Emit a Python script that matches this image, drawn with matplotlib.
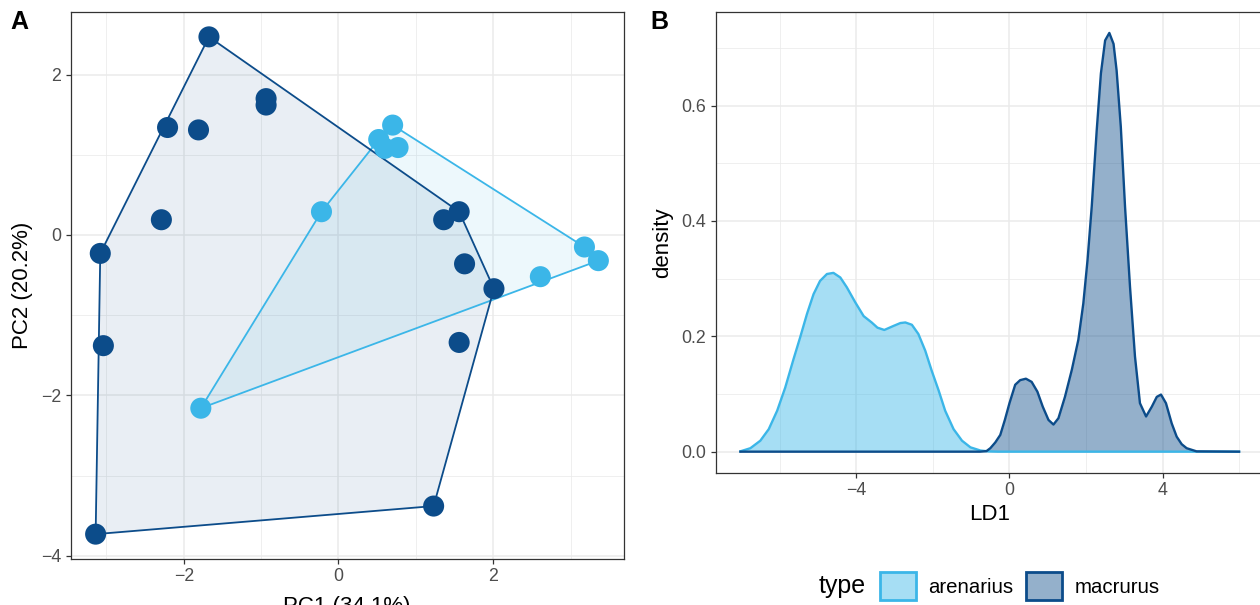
import matplotlib.pyplot as plt
import numpy as np
from matplotlib.patches import Patch, Polygon

plt.rcParams['font.family'] = ['Liberation Sans', 'DejaVu Sans']

# PCA scores
mac_pc1 = [-1.675, -0.936, -0.936, -2.21, -1.81, -2.29, -3.08, -3.04, -3.14, 1.23, 2.01, 1.63, 1.56, 1.36, 1.56]
mac_pc2 = [2.47, 1.70, 1.62, 1.34, 1.31, 0.19, -0.23, -1.38, -3.73, -3.38, -0.67, -0.36, 0.29, 0.19, -1.34]
are_pc1 = [0.70, 0.52, 0.60, 0.77, -0.22, -1.78, 2.61, 3.18, 3.36]
are_pc2 = [1.37, 1.19, 1.08, 1.09, 0.29, -2.16, -0.52, -0.15, -0.32]

# LD1 density curves
are_ld = [-7.03, -6.77, -6.51, -6.29, -6.07, -5.86, -5.64, -5.47, -5.29, -5.12, -4.95, -4.77, -4.60, -4.42,
          -4.25, -4.03, -3.81, -3.60, -3.45, -3.27, -3.03, -2.85, -2.72, -2.55, -2.38, -2.20, -2.03, -1.85,
          -1.68, -1.46, -1.24, -1.02, -0.76, -0.55, -0.30, 0.0, 6.0]
are_dens = [0.0006, 0.006, 0.019, 0.039, 0.071, 0.111, 0.161, 0.198, 0.239, 0.273, 0.296, 0.308, 0.310, 0.302,
            0.285, 0.259, 0.235, 0.224, 0.215, 0.211, 0.218, 0.223, 0.224, 0.220, 0.204, 0.175, 0.140, 0.106,
            0.071, 0.039, 0.019, 0.0075, 0.002, 0.0005, 0.0, 0.0, 0.0]
mac_ld = [-7.03, -0.77, -0.60, -0.50, -0.37, -0.24, -0.12, 0.0, 0.15, 0.28, 0.43, 0.58, 0.73, 0.87, 1.02, 1.15,
          1.28, 1.45, 1.63, 1.80, 1.93, 2.04, 2.15, 2.28, 2.39, 2.50, 2.61, 2.72, 2.80, 2.91, 3.02, 3.15, 3.28,
          3.41, 3.57, 3.72, 3.85, 3.96, 4.09, 4.24, 4.37, 4.50, 4.63, 4.89, 6.0]
mac_dens = [0.0, 0.0, 0.001, 0.006, 0.016, 0.029, 0.055, 0.084, 0.116, 0.124, 0.1265, 0.121, 0.104, 0.078, 0.055,
            0.047, 0.058, 0.095, 0.142, 0.194, 0.257, 0.332, 0.425, 0.557, 0.656, 0.713, 0.726, 0.707, 0.661, 0.563,
            0.425, 0.286, 0.165, 0.084, 0.061, 0.078, 0.095, 0.099, 0.084, 0.049, 0.026, 0.013, 0.006, 0.0005, 0.0]

light = '#3BB6E8'
dark = '#0C4C8A'
grid_c = '#EBEBEB'


def hull(xs, ys):
    pts = sorted(set(zip(xs, ys)))
    def cross(o, a, b):
        return (a[0]-o[0])*(b[1]-o[1]) - (a[1]-o[1])*(b[0]-o[0])
    lo, up = [], []
    for p in pts:
        while len(lo) >= 2 and cross(lo[-2], lo[-1], p) <= 0:
            lo.pop()
        lo.append(p)
    for p in reversed(pts):
        while len(up) >= 2 and cross(up[-2], up[-1], p) <= 0:
            up.pop()
        up.append(p)
    return lo[:-1] + up[:-1]


def style(ax):
    for s in ax.spines.values():
        s.set_color('#333333')
        s.set_linewidth(0.9)
    ax.tick_params(colors='#333333', labelcolor='#4D4D4D', labelsize=12.8, length=3.5, width=0.9, pad=3)
    ax.tick_params(which='minor', length=0)
    ax.grid(True, which='major', color=grid_c, lw=1.1, zorder=0)
    ax.grid(True, which='minor', color=grid_c, lw=0.55, zorder=0)
    ax.set_axisbelow(True)


def expand(lo, hi):
    d = (hi - lo) * 0.05
    return lo - d, hi + d


W, H = 1260, 605
fig = plt.figure(figsize=(12.6, 6.05), dpi=100)

# panel A
axA = fig.add_axes([70.5/W, 1-559/H, 553/W, 547/H])
for xs, ys, c, a in [(are_pc1, are_pc2, light, 0.09), (mac_pc1, mac_pc2, dark, 0.09)]:
    h = hull(xs, ys)
    axA.add_patch(Polygon(h, closed=True, facecolor=c, alpha=a, edgecolor='none', zorder=2))
    axA.add_patch(Polygon(h, closed=True, facecolor='none', edgecolor=c, lw=1.3, zorder=3))
axA.scatter(mac_pc1, mac_pc2, s=230, color=dark, edgecolors='none', zorder=4)
axA.scatter(are_pc1, are_pc2, s=230, color=light, edgecolors='none', zorder=5)
allx = mac_pc1 + are_pc1
ally = mac_pc2 + are_pc2
axA.set_xlim(*expand(min(allx), max(allx)))
axA.set_ylim(*expand(min(ally), max(ally)))
axA.set_xticks([-2, 0, 2])
axA.set_xticks([-3, -1, 1, 3], minor=True)
axA.set_yticks([-4, -2, 0, 2])
axA.set_yticks([-3, -1, 1], minor=True)
style(axA)
axA.set_xlabel('PC1 (34.1%)', fontsize=16, labelpad=8)
axA.set_ylabel('PC2 (20.2%)', fontsize=16, labelpad=6)

# panel B
axB = fig.add_axes([715.5/W, 1-472.6/H, 548.5/W, 460.6/H])
axB.fill_between(are_ld, are_dens, 0, color=light, alpha=0.45, lw=0, zorder=2)
axB.fill_between(mac_ld, mac_dens, 0, color=dark, alpha=0.44, lw=0, zorder=2)
axB.plot(are_ld, are_dens, color=light, lw=1.7, zorder=3, solid_joinstyle='round')
axB.plot(mac_ld, mac_dens, color=dark, lw=1.7, zorder=3, solid_joinstyle='round')
allld = are_ld + mac_ld
axB.set_xlim(*expand(min(allld), max(allld)))
axB.set_ylim(*expand(0, max(are_dens + mac_dens)))
axB.set_xticks([-4, 0, 4])
axB.set_xticks([-6, -2, 2, 6], minor=True)
axB.set_yticks([0.0, 0.2, 0.4, 0.6])
axB.set_yticklabels(['0.0', '0.2', '0.4', '0.6'])
axB.set_yticks([0.1, 0.3, 0.5, 0.7], minor=True)
style(axB)
axB.set_xlabel('LD1', fontsize=16, labelpad=4)
axB.set_ylabel('density', fontsize=16, labelpad=6)

fig.text(10/W, 1-22/H, 'A', fontsize=18, fontweight='bold', va='center', ha='left')
fig.text(650/W, 1-22/H, 'B', fontsize=18, fontweight='bold', va='center', ha='left')

# legend
fig.text(819/W, 1-586/H, 'type', fontsize=18, va='center', ha='left')
handles = [Patch(facecolor=(0.231, 0.714, 0.91, 0.45), edgecolor=light, lw=2.0),
           Patch(facecolor=(0.047, 0.298, 0.541, 0.44), edgecolor=dark, lw=2.0)]
fig.legend(handles, ['arenarius', 'macrurus'], loc='center left', bbox_to_anchor=(880/W, 1-586/H),
           ncol=2, frameon=False, fontsize=14.7, handlelength=1.76, handleheight=1.76,
           handletextpad=0.6, columnspacing=0.64, borderpad=0, borderaxespad=0)

fig.savefig('out.png', dpi=100)
